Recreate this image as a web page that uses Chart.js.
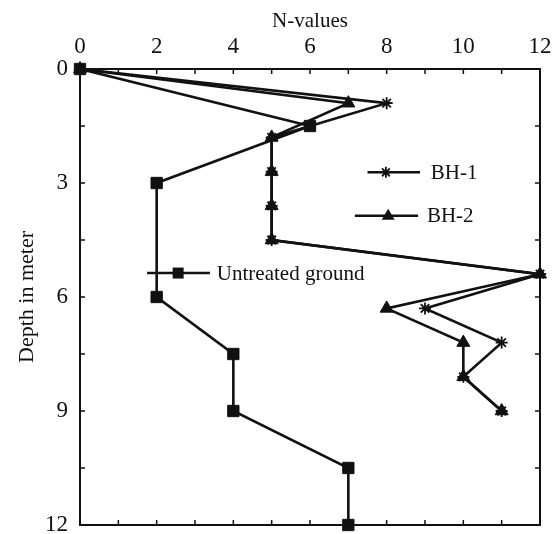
<!DOCTYPE html>
<html>
<head>
<meta charset="utf-8">
<script src="https://cdn.jsdelivr.net/npm/chart.js@4.4.1/dist/chart.umd.min.js"></script>
<style>
    html, body { margin: 0; padding: 0; background: #fff; }
    #Wrap { width: 553px; height: 534px; }
</style>
</head>
<body>
<div id="Wrap"><canvas id="SptChart" width="553" height="534"></canvas></div>
<script>
// SPT readings, depth in m against N-value
const BhDepths = [0, 0.9, 1.8, 2.7, 3.6, 4.5, 5.4, 6.3, 7.2, 8.1, 9.0];
const Bh1Values = [0, 8, 5, 5, 5, 5, 12, 9, 11, 10, 11];
const Bh2Values = [0, 7, 5, 5, 5, 5, 12, 8, 10, 10, 11];
const UntreatedDepths = [0, 1.5, 3, 6, 7.5, 9, 10.5, 12];
const UntreatedValues = [0, 6, 2, 2, 4, 4, 7, 7];
const SeriesNames = ["BH-1", "BH-2", "Untreated ground"];
const NTicks = [0, 2, 4, 6, 8, 10, 12];
const DepthTicks = [0, 3, 6, 9, 12];

const Ink = "#111111";
const FontName = "'Liberation Serif', 'Times New Roman', serif";

function ToPoints(values, depths) {
    return values.map(function (v, i) {
        return { x: v, y: depths[i] };
    });
}

// draws one marker the same way for the plot legend
function DrawMark(ctx, style, x, y) {
    ctx.save();
    ctx.fillStyle = Ink;
    ctx.strokeStyle = Ink;
    ctx.lineWidth = 1.8;
    ctx.beginPath();
    if (style === "rect") {
        ctx.rect(x - 5.5, y - 5.5, 11, 11);
        ctx.fill();
    } else if (style === "triangle") {
        ctx.moveTo(x, y - 7);
        ctx.lineTo(x + 6.5, y + 4);
        ctx.lineTo(x - 6.5, y + 4);
        ctx.closePath();
        ctx.fill();
    } else {
        const r = 5.5;
        for (let a = 0; a < 4; a++) {
            const ang = a * Math.PI / 4;
            ctx.moveTo(x - r * Math.cos(ang), y - r * Math.sin(ang));
            ctx.lineTo(x + r * Math.cos(ang), y + r * Math.sin(ang));
        }
        ctx.stroke();
    }
    ctx.restore();
}

// box around the plot plus the small inward ticks on all four sides
const FramePlugin = {
    id: "frame",
    afterDraw(chart) {
        const { ctx, chartArea: a, scales } = chart;
        ctx.save();
        ctx.strokeStyle = Ink;
        ctx.lineWidth = 2;
        ctx.strokeRect(a.left, a.top, a.right - a.left, a.bottom - a.top);
        ctx.lineWidth = 1.5;
        ctx.beginPath();
        for (let v = 1; v < 12; v += 1) {
            const px = scales.x.getPixelForValue(v);
            ctx.moveTo(px, a.top);
            ctx.lineTo(px, a.top + 5);
            ctx.moveTo(px, a.bottom);
            ctx.lineTo(px, a.bottom - 5);
        }
        for (let d = 1.5; d < 12; d += 1.5) {
            const py = scales.y.getPixelForValue(d);
            ctx.moveTo(a.left, py);
            ctx.lineTo(a.left + 5, py);
            ctx.moveTo(a.right, py);
            ctx.lineTo(a.right - 5, py);
        }
        ctx.stroke();
        ctx.restore();
    }
};

// legend entries sit inside the plot, placed in axis units
const PlotLegendPlugin = {
    id: "plotLegend",
    afterDatasetsDraw(chart) {
        const { ctx, scales } = chart;
        const Items = [
            { name: SeriesNames[0], style: "star", from: 7.5, mark: 7.98, to: 8.87, text: 9.15, depth: 2.72 },
            { name: SeriesNames[1], style: "triangle", from: 7.17, mark: 8.04, to: 8.82, text: 9.05, depth: 3.86 },
            { name: SeriesNames[2], style: "rect", from: 1.75, mark: 2.56, to: 3.39, text: 3.57, depth: 5.37 }
        ];
        ctx.save();
        ctx.font = "21px " + FontName;
        ctx.textBaseline = "middle";
        ctx.fillStyle = Ink;
        ctx.strokeStyle = Ink;
        Items.forEach(function (item) {
            const y = scales.y.getPixelForValue(item.depth);
            ctx.lineWidth = 2.5;
            ctx.beginPath();
            ctx.moveTo(scales.x.getPixelForValue(item.from), y);
            ctx.lineTo(scales.x.getPixelForValue(item.to), y);
            ctx.stroke();
            DrawMark(ctx, item.style, scales.x.getPixelForValue(item.mark), y);
            ctx.fillText(item.name, scales.x.getPixelForValue(item.text), y + 1);
        });
        ctx.restore();
    }
};

function MakeSet(label, values, depths, style, radius) {
    return {
        label: label,
        data: ToPoints(values, depths),
        showLine: true,
        borderColor: Ink,
        backgroundColor: Ink,
        borderWidth: 2.6,
        pointStyle: style,
        pointRadius: radius,
        pointHoverRadius: radius,
        pointBorderWidth: style === "star" ? 1.8 : 1,
        pointBorderColor: Ink,
        pointBackgroundColor: Ink,
        clip: false
    };
}

const SptChart = new Chart(document.getElementById("SptChart").getContext("2d"), {
    type: "scatter",
    data: {
        datasets: [
            MakeSet(SeriesNames[0], Bh1Values, BhDepths, "star", 6),
            MakeSet(SeriesNames[1], Bh2Values, BhDepths, "triangle", 7.5),
            MakeSet(SeriesNames[2], UntreatedValues, UntreatedDepths, "rect", 8)
        ]
    },
    options: {
        responsive: false,
        animation: false,
        layout: { padding: { left: 0, top: 0, right: 13, bottom: 5 } },
        plugins: {
            legend: { display: false },
            tooltip: { enabled: false }
        },
        scales: {
            x: {
                type: "linear",
                position: "top",
                min: 0,
                max: 12,
                afterBuildTicks: function (scale) {
                    scale.ticks = NTicks.map(function (v) { return { value: v }; });
                },
                afterFit: function (scale) {
                    scale.height = 69;
                    scale.paddingLeft = 0;
                    scale.paddingRight = 0;
                },
                grid: { display: false },
                border: { display: false },
                ticks: {
                    color: Ink,
                    padding: 0,
                    maxRotation: 0,
                    font: { family: FontName, size: 23 }
                },
                title: {
                    display: true,
                    text: "N-values",
                    color: Ink,
                    padding: { top: 9, bottom: 0 },
                    font: { family: FontName, size: 21 }
                }
            },
            y: {
                type: "linear",
                position: "left",
                reverse: true,
                min: 0,
                max: 12,
                afterBuildTicks: function (scale) {
                    scale.ticks = DepthTicks.map(function (v) { return { value: v }; });
                },
                afterFit: function (scale) {
                    scale.width = 80;
                    scale.paddingTop = 0;
                    scale.paddingBottom = 0;
                },
                grid: { display: false },
                border: { display: false },
                ticks: {
                    color: Ink,
                    padding: 4,
                    font: { family: FontName, size: 23 }
                },
                title: {
                    display: true,
                    text: "Depth in meter",
                    color: Ink,
                    padding: { top: 14, bottom: 0 },
                    font: { family: FontName, size: 22 }
                }
            }
        }
    },
    plugins: [FramePlugin, PlotLegendPlugin]
});
</script>
</body>
</html>
